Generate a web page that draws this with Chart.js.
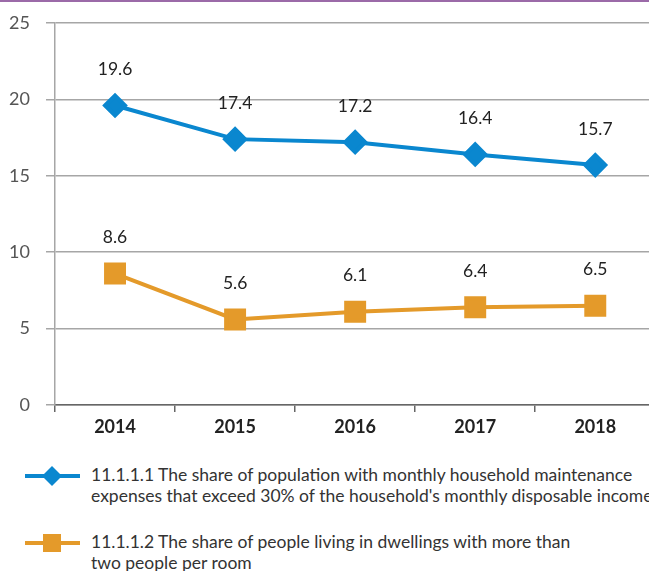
<!DOCTYPE html>
<html>
<head>
<meta charset="utf-8">
<script src="https://cdn.jsdelivr.net/npm/chart.js@4/dist/chart.umd.min.js"></script>
<style>
  body { margin: 0; width: 649px; height: 571px; overflow: hidden; background: #fff; font-family: Lato, sans-serif; position: relative; }
  #topline { position: absolute; left: 0; top: 0; width: 649px; height: 2px; background: #9b6aa8; z-index: 2; }
  #myChart { position: absolute; left: 0; top: 0; }
  .item { position: absolute; left: 25px; display: flex; align-items: flex-start; color: #333; font-size: 17.5px; line-height: 21px; white-space: nowrap; }
  .item svg { flex: none; margin-right: 11px; }
</style>
</head>
<body>
<div id="topline"></div>
<canvas id="myChart" width="672" height="440" style="width:672px;height:440px"></canvas>
<div class="item" id="leg1" style="top:464px">
  <svg width="55" height="24"><line x1="0" y1="12" x2="55" y2="12" stroke="#0a87cf" stroke-width="4"/><polygon points="27,2 37,12 27,22 17,12" fill="#0a87cf"/></svg>
  <span>11.1.1.1 The share of population with monthly household maintenance<br>expenses that exceed 30% of the household's monthly disposable income</span>
</div>
<div class="item" id="leg2" style="top:531px">
  <svg width="55" height="24"><line x1="0" y1="12" x2="55" y2="12" stroke="#e49a2a" stroke-width="4"/><rect x="18" y="3" width="18" height="18" fill="#e49a2a"/></svg>
  <span>11.1.1.2 The share of people living in dwellings with more than<br>two people per room</span>
</div>
<script>
const years = ["2014", "2015", "2016", "2017", "2018"];
const maintenanceShare = [19.6, 17.4, 17.2, 16.4, 15.7];
const crowdedShare = [8.6, 5.6, 6.1, 6.4, 6.5];
const yTicks = [0, 5, 10, 15, 20, 25];

// value labels above each point
const valueLabels = {
  id: "valueLabels",
  afterDatasetsDraw(chart) {
    const c = chart.ctx;
    c.save();
    c.font = "17.5px Lato";
    c.fillStyle = "#222";
    c.textAlign = "center";
    c.textBaseline = "middle";
    chart.data.datasets.forEach((ds, i) => {
      chart.getDatasetMeta(i).data.forEach((pt, j) => {
        c.fillText(ds.data[j].toFixed(1), pt.x, pt.y - 36);
      });
    });
    c.restore();
  },
};

const ctx = document.getElementById("myChart");

new Chart(ctx, {
  type: "line",
  data: {
    labels: years,
    datasets: [
      {
        label: "11.1.1.1",
        data: maintenanceShare,
        borderColor: "#0a87cf",
        backgroundColor: "#0a87cf",
        borderWidth: 4,
        pointStyle: "rectRot",
        pointRadius: 10,
        pointHoverRadius: 10,
      },
      {
        label: "11.1.1.2",
        data: crowdedShare,
        borderColor: "#e49a2a",
        backgroundColor: "#e49a2a",
        borderWidth: 4,
        pointStyle: "rect",
        pointRadius: 12.7,
        pointHoverRadius: 12.7,
      },
    ],
  },
  options: {
    responsive: false,
    animation: false,
    layout: { padding: { top: 23, right: 5, left: 0, bottom: 0 } },
    plugins: {
      legend: { display: false },
      tooltip: { enabled: false },
    },
    scales: {
      x: {
        offset: true,
        grid: {
          offset: true,
          drawOnChartArea: false,
          drawTicks: true,
          tickLength: 7,
          color: "#666",
          lineWidth: 1.5,
        },
        border: { display: true, color: "#666", width: 1.5 },
        ticks: {
          color: "#222",
          padding: 4,
          font: { family: "Lato", size: 18, weight: "bold" },
        },
        afterFit(scale) {
          scale.height = 35;
        },
      },
      y: {
        min: 0,
        max: 25,
        afterBuildTicks(scale) {
          scale.ticks = yTicks.map((v) => ({ value: v }));
        },
        grid: {
          color: "#a6a6a6",
          lineWidth: 1.5,
          tickLength: 9,
        },
        border: { display: true, color: "#a6a6a6", width: 1.5 },
        ticks: {
          color: "#555",
          padding: 16,
          font: { family: "Lato", size: 18 },
        },
        afterFit(scale) {
          scale.width = 55;
          scale.paddingTop = 0;
          scale.paddingBottom = 0;
        },
      },
    },
  },
  plugins: [valueLabels],
});
</script>
</body>
</html>
